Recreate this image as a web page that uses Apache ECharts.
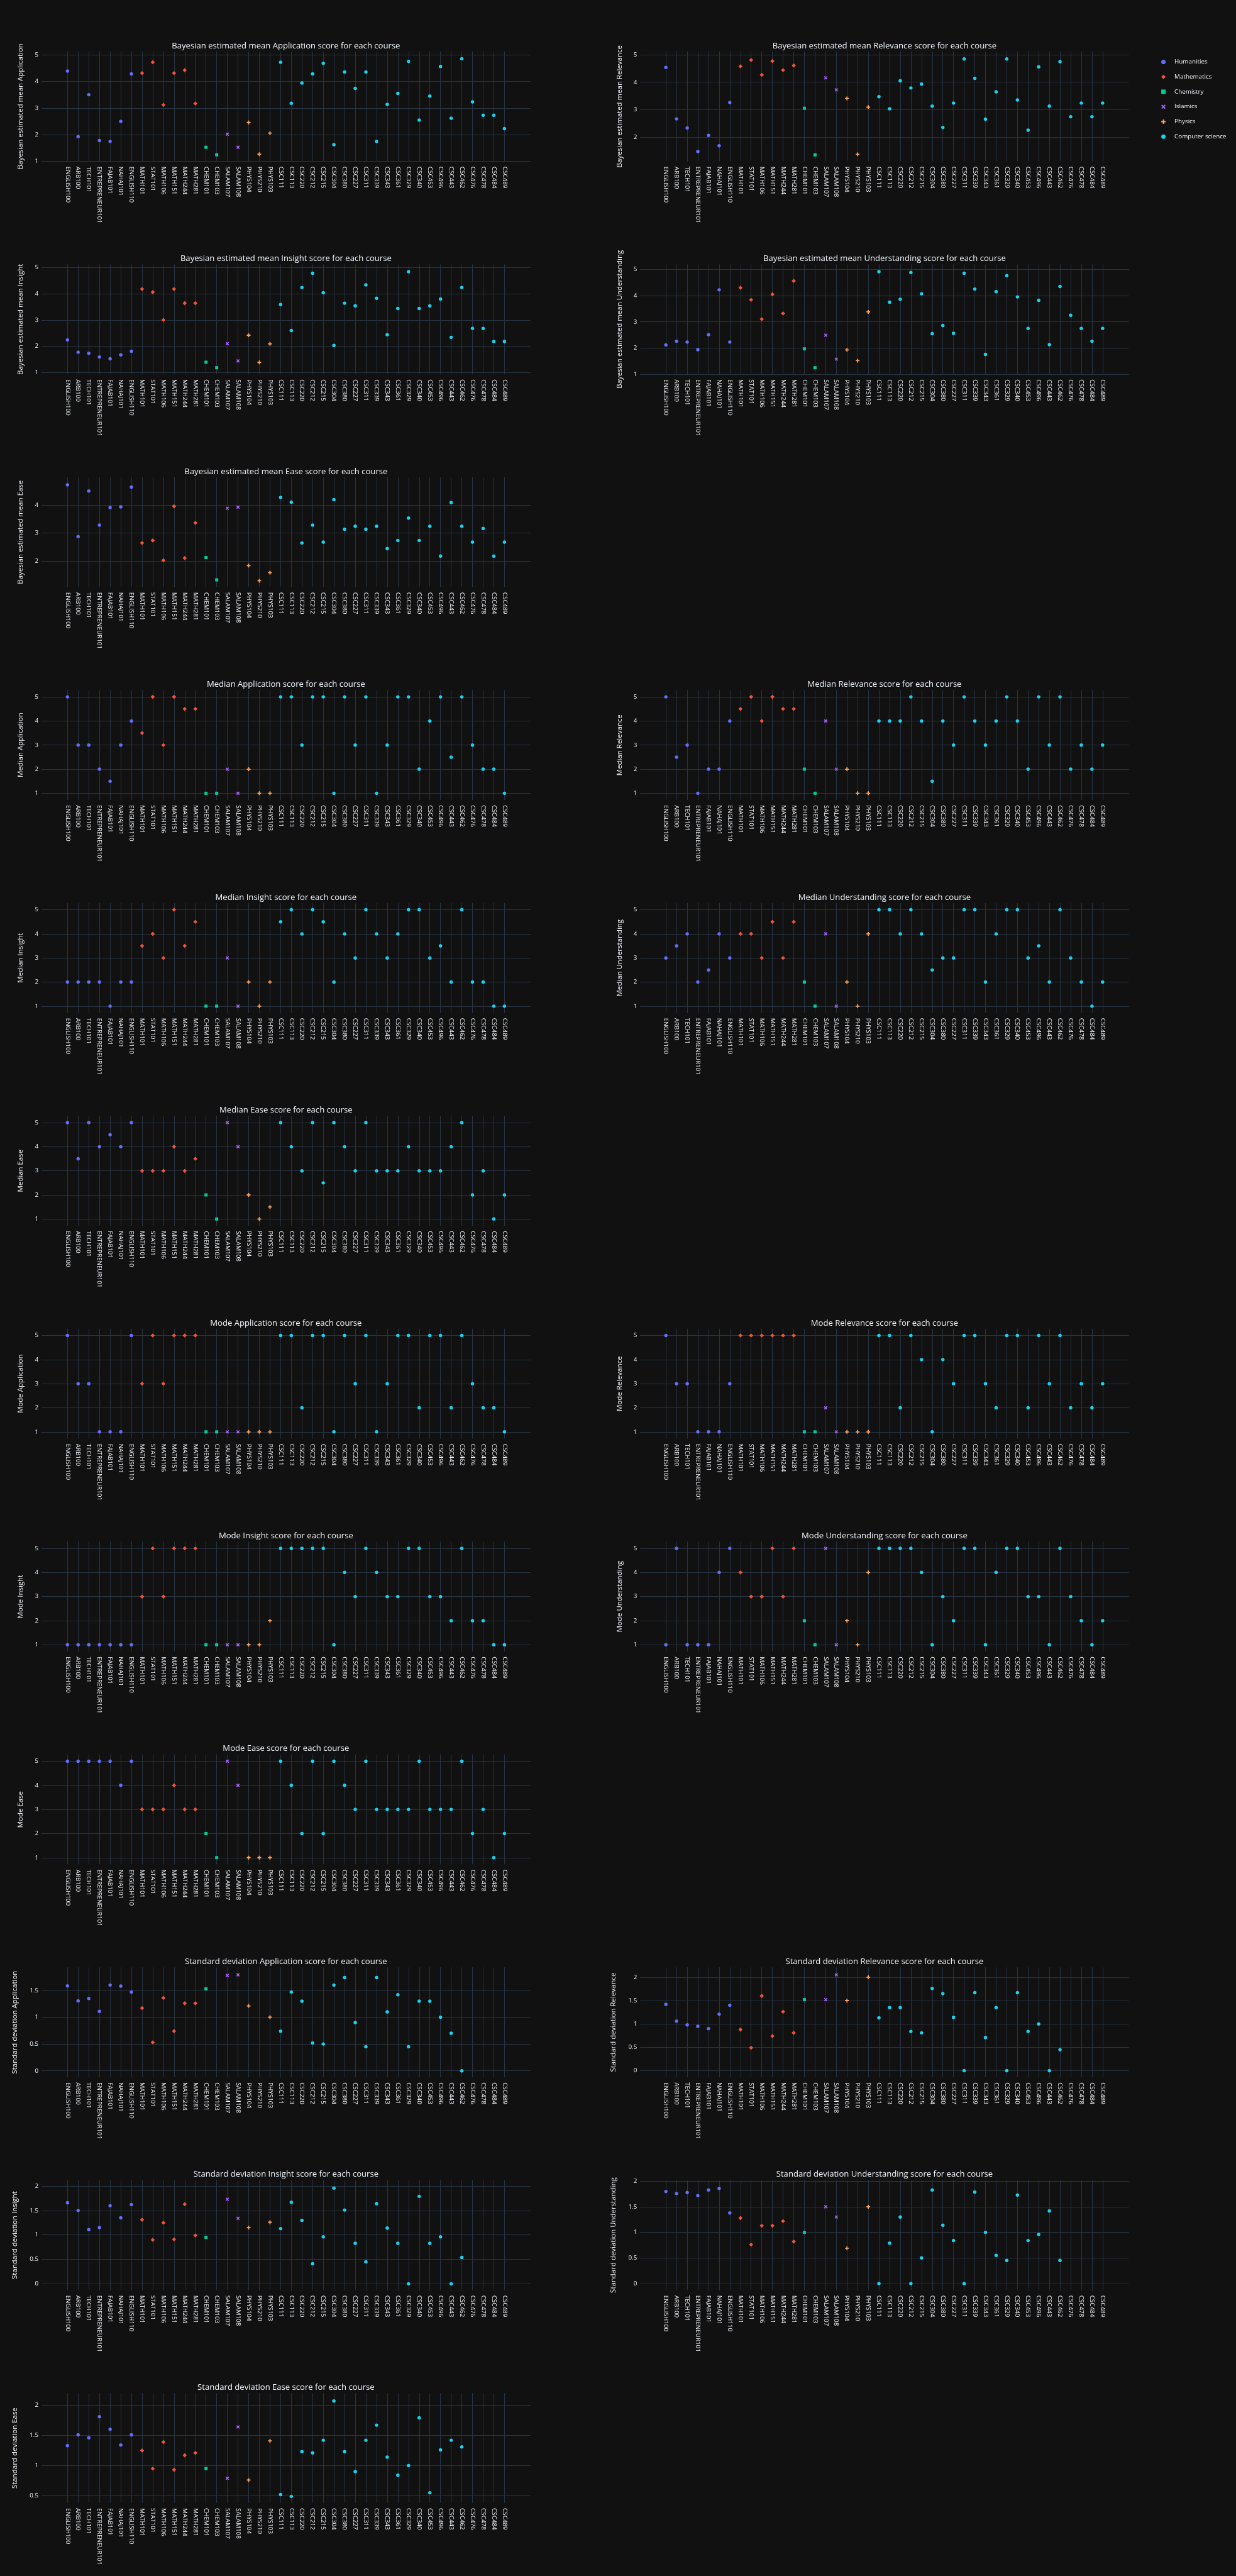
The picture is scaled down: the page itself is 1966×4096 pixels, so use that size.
<!DOCTYPE html>
<html><head><meta charset="utf-8">
<script src="https://cdn.jsdelivr.net/npm/echarts@6/dist/echarts.min.js"></script>
<style>html,body{margin:0;padding:0;background:#111111;}#chart{width:1966px;height:4096px;}</style>
</head><body><div id="chart"></div><script>
// ---------------- DATA ----------------
const courses = ['ENGLISH100','ARB100','TECH101','ENTREPRENEUR101','FAJAB101','NAHAJ101','ENGLISH110',
  'MATH101','STAT101','MATH106','MATH151','MATH244','MATH281','CHEM101','CHEM103','SALAM107','SALAM108',
  'PHYS104','PHYS210','PHYS103','CSC111','CSC113','CSC220','CSC212','CSC215','CSC304','CSC380','CSC227',
  'CSC311','CSC339','CSC343','CSC361','CSC329','CSC340','CSC453','CSC496','CSC443','CSC462','CSC476',
  'CSC478','CSC484','CSC489'];
const departments = ['Humanities','Mathematics','Chemistry','Islamics','Physics','Computer science'];
const courseDept = [0,0,0,0,0,0,0, 1,1,1,1,1,1, 2,2, 3,3, 4,4,4,
  5,5,5,5,5,5,5,5,5,5,5,5,5,5,5,5,5,5,5,5,5,5];

const bayesApp = [4.39,1.93,3.50,1.78,1.75,2.50,4.28, 4.31,4.72,3.12,4.31,4.42,3.17, 1.53,1.25, 2.02,1.53, 2.46,1.27,2.06,
  4.72,3.18,3.94,4.28,4.68,1.63,4.35,3.74,4.35,1.75,3.14,3.55,4.75,2.55,3.45,4.56,2.62,4.85,3.23,2.73,2.73,2.23];
const bayesRel = [4.54,2.66,2.33,1.47,2.06,1.68,3.26, 4.58,4.81,4.27,4.77,4.44,4.61, 3.05,1.35, 4.16,3.72, 3.41,1.37,3.09,
  3.47,3.03,4.05,3.79,3.93,3.13,2.35,3.24,4.85,4.14,2.65,3.65,4.85,3.35,2.25,4.56,3.13,4.75,2.74,3.24,2.74,3.24];
const bayesIns = [2.24,1.77,1.73,1.59,1.52,1.67,1.81, 4.18,4.06,3.00,4.18,3.64,3.64, 1.39,1.18, 2.10,1.44, 2.42,1.38,2.09,
  3.59,2.60,4.24,4.78,4.04,2.03,3.64,3.54,4.34,3.83,2.44,3.44,4.84,3.44,3.54,3.80,2.34,4.24,2.68,2.68,2.18,2.18];
const bayesUnd = [2.12,2.26,2.23,1.94,2.51,4.22,2.23, 4.30,3.84,3.10,4.05,3.32,4.56, 1.97,1.25, 2.49,1.58, 1.93,1.52,3.38,
  4.91,3.75,3.86,4.88,4.07,2.55,2.86,2.56,4.85,4.25,1.76,4.15,4.76,3.95,2.75,3.82,2.13,4.35,3.25,2.75,2.26,2.75];
const bayesEase = [4.72,2.87,4.50,3.28,3.91,3.93,4.64, 2.64,2.73,2.02,3.95,2.10,3.36, 2.12,1.32, 3.88,3.92, 1.83,1.29,1.58,
  4.27,4.10,2.64,3.28,2.67,4.19,3.13,3.24,3.13,3.24,2.44,2.73,3.53,2.73,3.24,2.17,4.09,3.24,2.67,3.16,2.17,2.67];

const medianApp = [5,3,3,2,1.5,3,4, 3.5,5,3,5,4.5,4.5, 1,1, 2,1, 2,1,1,
  5,5,3,5,5,1,5,3,5,1,3,5,5,2,4,5,2.5,5,3,2,2,1];
const medianRel = [5,2.5,3,1,2,2,4, 4.5,5,4,5,4.5,4.5, 2,1, 4,2, 2,1,1,
  4,4,4,5,4,1.5,4,3,5,4,3,4,5,4,2,5,3,5,2,3,2,3];
const medianIns = [2,2,2,2,1,2,2, 3.5,4,3,5,3.5,4.5, 1,1, 3,1, 2,1,2,
  4.5,5,4,5,4.5,2,4,3,5,4,3,4,5,5,3,3.5,2,5,2,2,1,1];
const medianUnd = [3,3.5,4,2,2.5,4,3, 4,4,3,4.5,3,4.5, 2,1, 4,1, 2,1,4,
  5,5,4,5,4,2.5,3,3,5,5,2,4,5,5,3,3.5,2,5,3,2,1,2];
const medianEase = [5,3.5,5,4,4.5,4,5, 3,3,3,4,3,3.5, 2,1, 5,4, 2,1,1.5,
  5,4,3,5,2.5,5,4,3,5,3,3,3,4,3,3,3,4,5,2,3,1,2];

const modeApp = [5,3,3,1,1,1,5, 3,5,3,5,5,5, 1,1, 1,1, 1,1,1,
  5,5,2,5,5,1,5,3,5,1,3,5,5,2,5,5,2,5,3,2,2,1];
const modeRel = [5,3,3,1,1,1,3, 5,5,5,5,5,5, 1,1, 2,1, 1,1,1,
  5,5,2,5,4,1,4,3,5,5,3,2,5,5,2,5,3,5,2,3,2,3];
const modeIns = [1,1,1,1,1,1,1, 3,5,3,5,5,5, 1,1, 1,1, 1,1,2,
  5,5,5,5,5,1,4,3,5,4,3,3,5,5,3,3,2,5,2,2,1,1];
const modeUnd = [1,5,1,1,1,4,5, 4,3,3,5,3,5, 2,1, 5,1, 2,1,4,
  5,5,5,5,4,1,3,2,5,5,1,4,5,5,3,3,1,5,3,2,1,2];
const modeEase = [5,5,5,5,5,4,5, 3,3,3,4,3,3, 2,1, 5,4, 1,1,1,
  5,4,2,5,2,5,4,3,5,3,3,3,3,5,3,3,3,5,2,3,1,2];

const sdApp = [1.585,1.305,1.35,1.11,1.60,1.58,1.47, 1.17,0.53,1.36,0.74,1.26,1.26, 1.53,null, 1.78,1.79, 1.21,null,1.00,
  0.74,1.47,1.30,0.52,0.50,1.60,1.74,0.90,0.45,1.74,1.10,1.42,0.45,1.30,1.30,1.00,0.70,0,null,null,null,null];
const sdRel = [1.42,1.06,0.98,0.95,0.90,1.21,1.40, 0.88,0.49,1.60,0.74,1.26,0.81, 1.52,null, 1.52,2.05, 1.50,null,2.00,
  1.13,1.35,1.35,0.84,0.81,1.76,1.65,1.14,0,1.67,0.71,1.35,0,1.67,0.84,1.00,0,0.45,null,null,null,null];
const sdIns = [1.66,1.50,1.11,1.15,1.60,1.35,1.62, 1.31,0.90,1.25,0.91,1.63,0.99, 0.95,null, 1.73,1.34, 1.15,null,1.26,
  1.13,1.67,1.30,0.41,0.96,1.96,1.51,0.83,0.45,1.64,1.14,0.83,0,1.79,0.83,0.96,0,0.54,null,null,null,null];
const sdUnd = [1.80,1.76,1.78,1.72,1.83,1.86,1.38, 1.28,0.76,1.13,1.13,1.22,0.82, 1.00,null, 1.50,1.30, 0.69,null,1.50,
  0,0.79,1.30,0,0.50,1.83,1.14,0.84,0,1.79,1.00,0.55,0.45,1.73,0.84,0.96,1.42,0.45,null,null,null,null];
const sdEase = [1.33,1.51,1.46,1.81,1.60,1.34,1.51, 1.25,0.95,1.39,0.93,1.17,1.21, 0.95,null, 0.79,1.64, 0.76,null,1.41,
  0.52,0.49,1.23,1.21,1.42,2.07,1.23,0.90,1.42,1.67,1.14,0.84,1.00,1.79,0.55,1.26,1.42,1.31,null,null,null,null];

// ---------------- CHART SPECS ----------------
const charts = [
  {row:0,col:0,stat:'Bayesian estimated mean',metric:'Application',values:bayesApp,range:[1.0,5.12],step:1},
  {row:0,col:1,stat:'Bayesian estimated mean',metric:'Relevance',values:bayesRel,range:[1.11,5.12],step:1},
  {row:1,col:0,stat:'Bayesian estimated mean',metric:'Insight',values:bayesIns,range:[0.93,5.12],step:1},
  {row:1,col:1,stat:'Bayesian estimated mean',metric:'Understanding',values:bayesUnd,range:[1.0,5.19],step:1},
  {row:2,col:0,stat:'Bayesian estimated mean',metric:'Ease',values:bayesEase,range:[1.06,4.99],step:1},
  {row:3,col:0,stat:'Median',metric:'Application',values:medianApp,range:[0.72,5.28],step:1},
  {row:3,col:1,stat:'Median',metric:'Relevance',values:medianRel,range:[0.72,5.28],step:1},
  {row:4,col:0,stat:'Median',metric:'Insight',values:medianIns,range:[0.72,5.28],step:1},
  {row:4,col:1,stat:'Median',metric:'Understanding',values:medianUnd,range:[0.72,5.28],step:1},
  {row:5,col:0,stat:'Median',metric:'Ease',values:medianEase,range:[0.72,5.28],step:1},
  {row:6,col:0,stat:'Mode',metric:'Application',values:modeApp,range:[0.72,5.28],step:1},
  {row:6,col:1,stat:'Mode',metric:'Relevance',values:modeRel,range:[0.72,5.28],step:1},
  {row:7,col:0,stat:'Mode',metric:'Insight',values:modeIns,range:[0.72,5.28],step:1},
  {row:7,col:1,stat:'Mode',metric:'Understanding',values:modeUnd,range:[0.72,5.28],step:1},
  {row:8,col:0,stat:'Mode',metric:'Ease',values:modeEase,range:[0.72,5.28],step:1},
  {row:9,col:0,stat:'Standard deviation',metric:'Application',values:sdApp,range:[-0.12,1.93],step:0.5},
  {row:9,col:1,stat:'Standard deviation',metric:'Relevance',values:sdRel,range:[-0.14,2.21],step:0.5},
  {row:10,col:0,stat:'Standard deviation',metric:'Insight',values:sdIns,range:[-0.13,2.12],step:0.5},
  {row:10,col:1,stat:'Standard deviation',metric:'Understanding',values:sdUnd,range:[-0.13,2.02],step:0.5},
  {row:11,col:0,stat:'Standard deviation',metric:'Ease',values:sdEase,range:[0.38,2.20],step:0.5}
];

// ---------------- STYLE / LAYOUT ----------------
const S = 1966 / 2400;
const px = v => v * S;
const FONT = '"Open Sans", verdana, arial, sans-serif';
const TXT = '#f2f5fa';
const GRIDC = '#283442';
const deptColors = ['#636efa','#EF553B','#00cc96','#ab63fa','#FFA15A','#19d3f3'];
const xPath = 'path://M0,2L2,0L5,3L8,0L10,2L7,5L10,8L8,10L5,7L2,10L0,8L3,5Z';
const crossPath = 'path://M3.5,0H6.5V3.5H10V6.5H6.5V10H3.5V6.5H0V3.5H3.5Z';
const deptSymbols = ['circle','diamond','rect',xPath,crossPath,'circle'];
const deptSizes = [5.4,6.6,5.0,5.6,6.0,5.4];
const ROW0_TOP = 100, ROW_STEP = 413.2, PLOT_H = 213.3, TITLE_Y0 = 89;
const cols = [
  {plotL:80.5, plotR:1030, cat0:131, catN:979.5},
  {plotL:1243, plotR:2192, cat0:1293, catN:2141}
];

const grid = [], xAxis = [], yAxis = [], series = [], graphic = [];
charts.forEach((c) => {
  const col = cols[c.col];
  const top = ROW0_TOP + ROW_STEP * c.row;
  const [yMin, yMax] = c.range;
  const yToPx = v => top + (yMax - v) / (yMax - yMin) * PLOT_H;
  const tMin = Math.ceil(yMin / c.step - 1e-9) * c.step;
  const tMax = Math.floor(yMax / c.step + 1e-9) * c.step;
  // tick grid (horizontal gridlines + y labels)
  const ga = grid.length;
  grid.push({left: px(col.plotL), width: px(col.plotR - col.plotL), top: px(yToPx(tMax)),
    height: px(yToPx(tMin) - yToPx(tMax)), outerBoundsMode: 'none', containLabel: false});
  xAxis.push({gridIndex: ga, type: 'value', show: false, min: 0, max: 1});
  yAxis.push({gridIndex: ga, type: 'value', min: tMin, max: tMax, interval: c.step,
    axisLine: {show: false}, axisTick: {show: false},
    axisLabel: {color: TXT, fontSize: 12 * S, fontFamily: FONT, margin: px(6)},
    splitLine: {show: true, lineStyle: {color: GRIDC, width: 1}}});
  // category grid (vertical gridlines + x labels + data)
  const gb = grid.length;
  grid.push({left: px(col.cat0), width: px(col.catN - col.cat0), top: px(top), height: px(PLOT_H),
    outerBoundsMode: 'none', containLabel: false});
  xAxis.push({gridIndex: gb, type: 'category', data: courses, boundaryGap: false,
    axisLine: {show: false}, axisTick: {show: false},
    axisLabel: {interval: 0, rotate: -90, color: TXT, fontSize: 12 * S, fontFamily: FONT, margin: px(10)},
    splitLine: {show: true, interval: 0, lineStyle: {color: GRIDC, width: 1}}});
  yAxis.push({gridIndex: gb, type: 'value', min: yMin, max: yMax, show: false});
  departments.forEach((d, di) => {
    const data = [];
    c.values.forEach((v, i) => { if (courseDept[i] === di && v !== null) data.push([courses[i], v]); });
    series.push({type: 'scatter', name: d, xAxisIndex: gb, yAxisIndex: gb, data: data,
      symbol: deptSymbols[di], symbolSize: deptSizes[di], itemStyle: {color: deptColors[di], opacity: 1},
      emphasis: {disabled: true}, z: 3});
  });
  // subplot title
  graphic.push({type: 'text', x: px((col.plotL + col.plotR) / 2), y: px(TITLE_Y0 + ROW_STEP * c.row),
    style: {text: c.stat + ' ' + c.metric + ' score for each course', fill: TXT, font: (16 * S) + 'px ' + FONT,
      textAlign: 'center', textVerticalAlign: 'middle'}});
  // y axis title
  const off = c.step === 0.5 ? 52 : 40;
  graphic.push({type: 'text', x: px(col.plotL - off), y: px(top + PLOT_H / 2), rotation: Math.PI / 2,
    style: {text: c.stat + ' ' + c.metric, fill: TXT, font: (14 * S) + 'px ' + FONT,
      textAlign: 'center', textVerticalAlign: 'middle'}});
});

const chart = echarts.init(document.getElementById('chart'), null, {renderer: 'canvas'});
chart.setOption({
  backgroundColor: '#111111',
  animation: false,
  grid, xAxis, yAxis, series, graphic,
  legend: {
    data: departments, orient: 'vertical', left: px(2253) - 3.5, top: px(114) - 6,
    itemWidth: 7, itemHeight: 7, itemGap: px(29) - 12,
    textStyle: {color: TXT, fontSize: 12 * S, fontFamily: FONT, lineHeight: 12, padding: [0, 0, 0, 9]}
  }
});
</script></body></html>
